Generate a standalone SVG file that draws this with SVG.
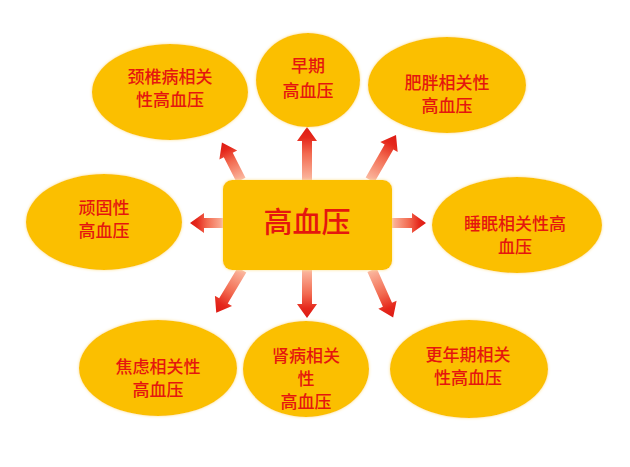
<svg xmlns="http://www.w3.org/2000/svg" width="630" height="467" viewBox="0 0 630 467">
  <defs>
    <linearGradient id="arrowGrad" x1="0" y1="0" x2="1" y2="0">
      <stop offset="0" stop-color="#FBB8A0"/>
      <stop offset="0.5" stop-color="#F26A50"/>
      <stop offset="0.8" stop-color="#E5281C"/>
      <stop offset="1" stop-color="#DD1A14"/>
    </linearGradient>
    <filter id="glow" x="-10%" y="-10%" width="120%" height="120%">
      <feGaussianBlur in="SourceAlpha" stdDeviation="1.5" result="b"/>
      <feFlood flood-color="#FCE08C"/>
      <feComposite in2="b" operator="in" result="g"/>
      <feMerge><feMergeNode in="g"/><feMergeNode in="SourceGraphic"/></feMerge>
    </filter>
  </defs>
  <style>
    .node { fill: #FBBF00; filter: url(#glow); }
    .lbl { font-family: "Noto Sans CJK SC", "Noto Sans", sans-serif; font-size: 17px; font-weight: 500; fill: #E5160E; text-anchor: middle; }
    .big { font-size: 29px; }
    .arrow { fill: url(#arrowGrad); }
  </style>
  <rect width="630" height="467" fill="#FFFFFF"/>

  <g id="connectors">
    <polygon class="arrow" points="0,-5 28,-5 28,-10 42,0 28,10 28,5 0,5" transform="translate(241,180) rotate(-117)"/>
    <polygon class="arrow" points="0,-5 39,-5 39,-10 53,0 39,10 39,5 0,5" transform="translate(307,180) rotate(-90)"/>
    <polygon class="arrow" points="0,-5 38,-5 38,-10 52,0 38,10 38,5 0,5" transform="translate(370,180) rotate(-60)"/>
    <polygon class="arrow" points="0,-5 20,-5 20,-10 34,0 20,10 20,5 0,5" transform="translate(224,223) rotate(180)"/>
    <polygon class="arrow" points="0,-5 20,-5 20,-10 34,0 20,10 20,5 0,5" transform="translate(392,223)"/>
    <polygon class="arrow" points="0,-5 36,-5 36,-10 50,0 36,10 36,5 0,5" transform="translate(242,270) rotate(121)"/>
    <polygon class="arrow" points="0,-5 34,-5 34,-10 48,0 34,10 34,5 0,5" transform="translate(307,270) rotate(90)"/>
    <polygon class="arrow" points="0,-5 38,-5 38,-10 52,0 38,10 38,5 0,5" transform="translate(372,270) rotate(66)"/>
  </g>

  <g id="center">
    <rect class="node" x="223" y="180" width="169" height="90" rx="9"/>
    <text class="lbl big" x="307" y="233">高血压</text>
  </g>

  <g id="n-jingzhui">
    <ellipse class="node" cx="170" cy="92" rx="78" ry="48"/>
    <text class="lbl" x="170" y="83">颈椎病相关</text>
    <text class="lbl" x="170" y="106">性高血压</text>
  </g>

  <g id="n-zaoqi">
    <ellipse class="node" cx="308" cy="80" rx="52" ry="47"/>
    <text class="lbl" x="308" y="72">早期</text>
    <text class="lbl" x="308" y="97">高血压</text>
  </g>

  <g id="n-feipang">
    <ellipse class="node" cx="447" cy="85" rx="79" ry="48"/>
    <text class="lbl" x="447" y="89">肥胖相关性</text>
    <text class="lbl" x="447" y="112">高血压</text>
  </g>

  <g id="n-wangu">
    <ellipse class="node" cx="104" cy="222" rx="78" ry="48"/>
    <text class="lbl" x="104" y="214">顽固性</text>
    <text class="lbl" x="104" y="237">高血压</text>
  </g>

  <g id="n-shuimian">
    <ellipse class="node" cx="517" cy="225" rx="85" ry="48"/>
    <text class="lbl" x="515" y="230">睡眠相关性高</text>
    <text class="lbl" x="515" y="253">血压</text>
  </g>

  <g id="n-jiaolv">
    <ellipse class="node" cx="158" cy="368" rx="79" ry="48"/>
    <text class="lbl" x="158" y="373">焦虑相关性</text>
    <text class="lbl" x="158" y="396">高血压</text>
  </g>

  <g id="n-shenbing">
    <ellipse class="node" cx="306" cy="369" rx="63" ry="48"/>
    <text class="lbl" x="306" y="362">肾病相关</text>
    <text class="lbl" x="306" y="385">性</text>
    <text class="lbl" x="306" y="408">高血压</text>
  </g>

  <g id="n-gengnian">
    <ellipse class="node" cx="469" cy="369" rx="79" ry="49"/>
    <text class="lbl" x="468" y="361">更年期相关</text>
    <text class="lbl" x="468" y="384">性高血压</text>
  </g>
</svg>
